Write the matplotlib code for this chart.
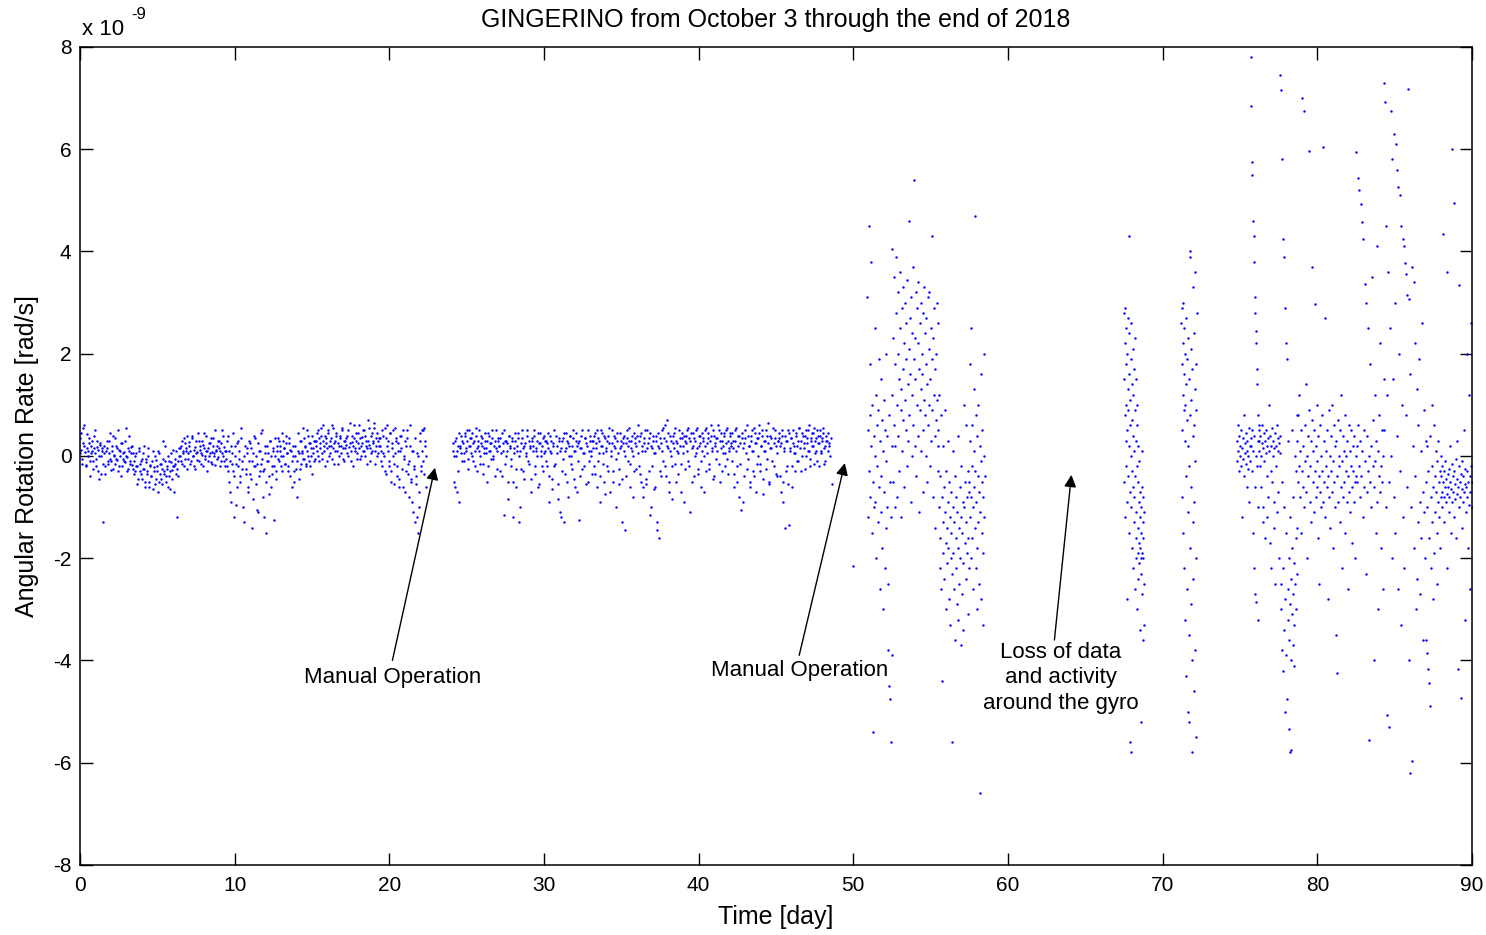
import numpy as np
import matplotlib.pyplot as plt
from matplotlib.ticker import FuncFormatter

# ---------------- data (rotation rate in units of 1e-9 rad/s) ----------------
SCALE = 1e-9

# continuous run, day 0 -> 22.4
run1 = [0.35, 0.12, -0.05, 0.55, 0.2, 0.08, -0.18, 0.42, 0.1, 0.25, -0.1, 0.05, 0.3, -0.25, 0.15, 0.5, -0.05, 0.18, -0.3, 0.0, 0.22, -0.35, 0.1,
        -1.3, 0.05, -0.2, 0.15, -0.1, 0.3, -0.05, -0.28, 0.1, 0.4, 0.02, -0.15, 0.2, -0.08, -0.3, 0.12, 0.0, 0.25, -0.2, -0.05, 0.08, -0.12, 0.55, -0.02, -0.25, 0.1, -0.1, 0.18, -0.18, 0.05,
        -0.1, -0.3, 0.05, -0.2, -0.45, 0.15, -0.15, -0.35, -0.05, -0.25, 0.2, -0.5, -0.12, -0.3, 0.0, -0.6, -0.18, -0.4, 0.1, -0.22, -0.55, -0.08, -0.3, -0.7, 0.05, -0.15, -0.45, -0.25, 0.3, -0.35, -0.1, -0.5, -0.2, 0.0, -0.4, -0.65, -0.12, -0.28, 0.12, -0.2, -0.05, -0.35, -1.2, -0.1, 0.15,
        0.0, 0.2, -0.15, 0.1, 0.35, -0.05, 0.15, -0.25, 0.05, 0.28, 0.1, -0.1, 0.4, 0.0, -0.2, 0.18, 0.05, -0.08, 0.3, 0.12, -0.15, 0.02, 0.22, 0.45, -0.05, 0.1, -0.3, 0.15, 0.0, 0.25, -0.12, 0.08, 0.35, 0.05, -0.18, 0.12, 0.2, -0.02, 0.3, 0.1, -0.1, 0.5, 0.0, 0.18, -0.2,
        0.1, -0.2, 0.4, -0.5, -0.1, -0.9, 0.05, -0.3, -1.2, 0.2, -0.15, -0.6, 0.3, -0.05, -0.4, 0.55, -0.25, -1.0, 0.0, -0.35, 0.15, -0.7, -0.1, 0.25, -0.45, -1.4, 0.05, -0.2, 0.35, -0.55, -0.15, -1.1, 0.1, -0.3, 0.45, -0.05, -0.8, -0.25, 0.2, -1.5, -0.1, 0.05, -0.4, 0.3, -0.6, -0.2, 0.1, -1.25, 0.0, -0.3,
        0.2, -0.05, 0.3, 0.1, -0.2, 0.45, 0.0, 0.15, -0.15, 0.25, 0.05, -0.3, 0.35, 0.12, -0.1, 0.2, -0.5, 0.0, -0.25, -0.8, 0.1, -0.45, 0.3, -0.15, 0.05, 0.55, -0.05, 0.18, -0.2, 0.1, 0.4, -0.1, 0.25, 0.0, -0.35, 0.15, 0.3, -0.05,
        0.3, 0.1, 0.5, -0.1, 0.25, 0.4, 0.05, 0.6, 0.2, -0.2, 0.35, 0.15, 0.45, 0.0, 0.3, 0.2, -0.05, 0.55, 0.25, 0.1, 0.4, -0.15, 0.2, 0.35, 0.05, 0.5, 0.15, -0.1, 0.3, 0.22, 0.4, 0.0, 0.18, 0.65, 0.1, 0.28, -0.2, 0.35, 0.15, 0.45, 0.05, 0.25, 0.6, -0.05, 0.2, 0.38, 0.1, 0.5, 0.0, 0.3, 0.15, 0.7, 0.22, -0.1, 0.4, 0.1, 0.3, 0.55, -0.15, 0.2, 0.45, 0.05, 0.35,
        0.2, -0.1, 0.5, 0.05, -0.3, 0.35, 0.6, 0.1, -0.2, 0.45, -0.5, 0.25, 0.0, -0.15, 0.55, 0.3, -0.4, 0.1, -0.6, 0.4, 0.15, -0.25, 0.5, -0.05, -0.7, 0.2, 0.35, -0.35, -0.1, 0.6, -0.45, -0.9, 0.1, -0.2, -1.3, -0.55, 0.05, -1.5, -1.0, 0.3, -0.3, 0.5, -0.1, 0.55, 0.2, -0.6]
# second channel of the same run (interleaved samples)
run1_b = [0.05, 0.45, -0.15, 0.25, 0.6, -0.2, 0.15, 0.0, 0.35, -0.4, 0.2, 0.1, -0.1, 0.4, 0.05, -0.2, 0.3, 0.12, -0.45, 0.25, 0.0, 0.15, -0.15,
          0.2, -0.35, 0.1, 0.3, -0.15, 0.05, 0.45, -0.1, 0.2, -0.25, 0.0, 0.35, -0.05, 0.15, 0.5, -0.2, 0.1, -0.4, 0.25, 0.05, -0.1, 0.3, 0.0, -0.3, 0.15, 0.4, -0.15, 0.05, 0.2, -0.25,
          -0.35, 0.0, -0.2, -0.55, 0.1, -0.3, -0.1, -0.45, 0.05, -0.25, -0.6, -0.05, -0.35, 0.15, -0.5, -0.2, -0.4, -0.1, -0.65, -0.3, 0.0, -0.45, -0.2, 0.1, -0.5, -0.35, -0.15, -0.55, -0.05, -0.3, 0.2, -0.4, -0.25, -0.6, -0.1, -0.3, 0.05, -0.45, -0.2, -0.7, -0.15, 0.1, -0.25, -0.4, 0.0,
          0.15, -0.1, 0.3, 0.05, -0.2, 0.25, 0.1, 0.4, -0.05, 0.2, -0.15, 0.35, 0.0, 0.12, -0.25, 0.3, 0.08, 0.45, -0.1, 0.2, 0.05, 0.3, -0.2, 0.15, 0.0, 0.4, 0.1, -0.1, 0.25, 0.05, 0.35, -0.15, 0.2, 0.0, 0.5, 0.1, -0.05, 0.3, 0.15, -0.2, 0.25, 0.05, 0.4, -0.1, 0.1,
          -0.05, 0.3, -0.3, 0.1, -0.7, 0.2, -0.15, 0.45, -0.4, 0.0, -0.95, 0.25, -0.2, 0.1, -0.5, 0.35, -0.1, -1.3, 0.2, -0.25, 0.05, -0.6, 0.3, -0.35, 0.15, -0.1, -0.85, 0.4, -0.2, 0.0, -1.05, 0.25, -0.4, 0.1, -0.15, 0.5, -0.3, -1.2, 0.05, -0.5, 0.2, -0.1, -0.75, 0.3, 0.0, -0.35, 0.15, -0.2, 0.35, -0.45,
          0.1, 0.35, -0.1, 0.2, 0.0, -0.3, 0.3, 0.15, -0.15, 0.4, 0.05, -0.2, 0.25, -0.4, 0.1, -0.6, 0.0, -0.3, 0.2, -0.1, 0.45, 0.05, -0.25, 0.3, 0.1, -0.05, 0.35, 0.2, -0.15, 0.5, 0.0, 0.25, -0.2, 0.15, 0.4, 0.05, -0.1, 0.3,
          0.2, 0.45, 0.0, 0.35, 0.15, 0.55, -0.05, 0.3, 0.1, 0.4, 0.25, -0.1, 0.5, 0.2, 0.05, 0.35, 0.6, 0.15, -0.15, 0.3, 0.45, 0.1, 0.25, 0.0, 0.4, 0.2, 0.55, -0.05, 0.3, 0.15, 0.35, 0.05, 0.5, 0.25, -0.1, 0.4, 0.2, 0.6, 0.1, 0.3, -0.05, 0.45, 0.15, 0.35, 0.0, 0.25, 0.5, 0.1, 0.4, 0.2, -0.15, 0.3, 0.55, 0.15, 0.05, 0.45, 0.25, 0.65, 0.1, 0.35, 0.0, 0.3, 0.2,
          0.35, 0.1, -0.2, 0.4, 0.0, 0.55, -0.35, 0.2, 0.3, -0.1, 0.45, -0.3, 0.15, 0.5, -0.55, 0.05, 0.35, -0.2, 0.25, -0.45, 0.1, 0.4, -0.6, 0.0, 0.3, -0.3, 0.5, -0.15, -0.8, 0.2, -0.5, 0.1, -1.1, -0.25, 0.35, -0.4, -1.2, 0.0, -0.7, 0.45, -0.2, 0.1, 0.5, -0.35, 0.3, 0.0]

# continuous run, day 24.1 -> 48.6
run2 = [0.1, -0.5, 0.3, 0.0, -0.7, 0.2, -0.9, 0.15, 0.4, -0.1, 0.25, 0.05, 0.45, 0.1, 0.3, -0.05, 0.5, 0.2, 0.35, 0.0, 0.25, -0.2, 0.55, 0.15, 0.3, 0.1, -0.15, 0.4, 0.2, -0.35, 0.05, 0.3, 0.15, -0.5, 0.45, 0.1, 0.25, -0.05, 0.35, 0.0, 0.2, -0.4, 0.5, 0.1, 0.3,
        0.2, -0.3, 0.45, 0.1, -1.15, 0.3, 0.0, 0.25, -0.5, 0.4, 0.15, -0.2, 0.35, -1.2, 0.05, 0.3, -0.6, 0.2, 0.45, -1.3, 0.1, -0.25, 0.35, 0.15, -0.45, 0.25, 0.0, 0.5, -0.15, 0.2, -0.7, 0.3, 0.1, 0.4, -0.35, 0.15, 0.0, 0.45, -0.55, 0.25, 0.1, -0.2, 0.35, 0.05, 0.3,
        -0.1, 0.25, 0.45, -0.4, 0.1, 0.3, -0.65, 0.2, -0.2, 0.4, 0.05, -0.85, 0.3, -1.1, 0.15, -0.3, 0.35, -1.3, 0.1, 0.45, -0.5, 0.25, 0.0, 0.4, -0.15, 0.2, 0.5, -0.45, 0.1, 0.3, -0.7, 0.25, -1.25, 0.15, 0.4, -0.25, 0.05, 0.35, -0.55, 0.2, 0.5, -0.1, 0.3, 0.1, -0.35,
        0.3, -0.2, 0.45, 0.15, -0.6, 0.35, 0.05, -0.4, 0.5, 0.2, -0.15, 0.4, -0.75, 0.1, 0.3, -0.3, 0.55, 0.0, 0.25, -0.5, 0.4, 0.15, -1.0, 0.3, 0.05, -0.25, 0.45, 0.2, -0.45, 0.35, 0.1, -1.45, 0.25, 0.5, -0.1, 0.3, -0.6, 0.15, 0.4, 0.0, -0.3, 0.35, 0.2, 0.6, -0.2,
        0.4, -0.5, 0.2, -0.6, 0.35, 0.1, -0.55, 0.5, 0.25, -0.3, 0.45, -1.0, 0.15, 0.3, -0.65, 0.05, 0.4, -1.3, 0.2, -1.6, 0.35, -0.4, 0.1, 0.55, -0.2, 0.3, 0.7, 0.15, -0.5, 0.4, 0.0, -0.85, 0.25, 0.45, -0.15, 0.3, 0.1, -0.35, 0.5, 0.2, -0.7, 0.35, 0.05, 0.4, -0.25,
        0.25, 0.5, -0.1, 0.35, -1.1, 0.15, 0.45, -0.4, 0.3, 0.05, 0.55, -0.25, 0.2, 0.4, -0.6, 0.1, 0.35, 0.0, 0.5, -0.3, 0.25, 0.45, -0.15, 0.3, 0.6, 0.1, -0.45, 0.4, 0.2, -0.05, 0.35, 0.5, -0.5, 0.15, 0.3, 0.05, 0.45, -0.2, 0.25, 0.55, -0.35, 0.1, 0.4, 0.2, -0.1,
        0.3, -0.6, 0.5, 0.1, -0.2, 0.4, -0.8, 0.25, -1.05, 0.45, 0.15, -0.4, 0.35, 0.6, -0.05, 0.2, -0.5, 0.4, 0.1, -0.3, 0.55, 0.25, -0.7, 0.35, 0.0, 0.45, -0.15, 0.2, 0.5, -0.45, 0.3, 0.1, -0.25, 0.4, 0.65, -0.55, 0.15, 0.35, -0.1, 0.25, 0.5, -0.35, 0.05, 0.3, 0.45,
        0.2, -0.7, 0.4, -0.5, 0.1, -1.4, 0.3, -0.2, 0.5, -1.35, 0.15, 0.35, -0.6, 0.25, 0.05, -0.3, 0.45, 0.2, -0.1, 0.55, 0.3, 0.0, 0.4, 0.15, -0.25, 0.5, 0.25, 0.1, 0.6, -0.05, 0.35, 0.2, 0.45, -0.15, 0.3, 0.1, 0.5, 0.25, -0.2, 0.4, 0.05, 0.35, 0.55, 0.15, -0.1, 0.3, 0.45, 0.2, 0.0, 0.35, -0.55]
run2_b = [0.25, 0.0, -0.6, 0.35, 0.1, -0.3, 0.45, 0.2, 0.05, 0.3, -0.1, 0.4, 0.15, 0.5, -0.25, 0.2, 0.35, 0.05, 0.45, -0.1, 0.3, 0.1, 0.4, -0.3, 0.2, 0.5, 0.0, 0.25, 0.35, -0.15, 0.15, 0.45, 0.05, 0.3, -0.2, 0.4, 0.1, 0.25, 0.5, -0.05, 0.3, 0.15, -0.25, 0.35, 0.2,
          0.35, 0.05, -0.4, 0.25, 0.5, -0.15, 0.3, 0.1, -0.85, 0.4, 0.2, -0.05, 0.3, -0.5, 0.15, 0.45, -0.25, 0.1, 0.35, 0.0, -1.0, 0.25, 0.5, -0.3, 0.2, 0.05, 0.4, -0.1, 0.3, 0.15, -0.45, 0.35, 0.2, 0.5, -0.2, 0.1, 0.3, -0.6, 0.25, 0.45, 0.0, 0.2, -0.3, 0.4, 0.1,
          0.3, -0.2, 0.15, -0.9, 0.4, 0.05, -0.45, 0.25, 0.5, -0.15, 0.2, -0.55, 0.35, 0.1, -1.2, 0.3, -0.05, 0.45, -0.35, 0.15, 0.3, -0.8, 0.2, 0.4, 0.0, -0.25, 0.35, 0.1, -0.6, 0.45, 0.2, -0.1, 0.3, -0.4, 0.15, 0.5, 0.05, -0.2, 0.35, 0.25, -0.5, 0.1, 0.4, 0.0, 0.3,
          0.15, 0.4, -0.35, 0.25, 0.5, -0.1, 0.3, -0.9, 0.2, 0.45, 0.05, -0.5, 0.35, 0.15, -0.2, 0.4, 0.25, -0.7, 0.1, 0.5, -0.3, 0.2, 0.35, -0.05, 0.45, -0.55, 0.15, 0.3, -1.3, 0.25, 0.4, 0.0, -0.4, 0.35, 0.2, 0.55, -0.15, 0.3, 0.1, -0.8, 0.45, 0.25, -0.25, 0.4, 0.05,
          0.3, -0.35, 0.45, 0.1, -0.8, 0.25, 0.5, -0.45, 0.15, 0.35, -1.15, 0.2, -0.2, 0.4, 0.05, -0.6, 0.3, -1.45, 0.45, 0.15, -0.3, 0.25, 0.5, -0.1, 0.35, 0.6, -0.4, 0.2, 0.45, -0.7, 0.1, 0.3, -0.2, 0.4, 0.15, 0.55, -0.5, 0.25, 0.05, 0.35, -0.15, 0.45, 0.2, -0.9, 0.3,
          0.4, 0.1, 0.55, -0.2, 0.3, 0.45, -0.5, 0.2, 0.35, 0.0, 0.5, 0.15, -0.35, 0.4, 0.25, -0.1, 0.45, 0.3, -0.7, 0.2, 0.55, 0.05, 0.35, -0.25, 0.4, 0.15, 0.5, -0.4, 0.25, 0.35, 0.1, 0.6, -0.15, 0.3, 0.45, -0.3, 0.2, 0.4, 0.05, 0.5, -0.05, 0.3, 0.15, 0.45, 0.25,
          0.45, 0.15, -0.35, 0.3, 0.55, -0.5, 0.2, 0.4, -0.15, 0.35, -0.9, 0.25, 0.5, 0.05, -0.25, 0.4, 0.2, -0.6, 0.3, 0.5, 0.1, -0.4, 0.45, 0.25, -0.15, 0.35, 0.6, -0.3, 0.2, 0.4, -0.75, 0.1, 0.3, 0.5, -0.05, 0.25, -0.5, 0.4, 0.15, 0.55, -0.2, 0.35, 0.2, -0.4, 0.3,
          0.35, -0.4, 0.25, 0.5, -0.9, 0.15, 0.4, -0.3, 0.3, -0.55, 0.45, 0.1, 0.35, -0.2, 0.5, 0.2, 0.05, 0.4, -0.1, 0.3, 0.55, 0.15, -0.3, 0.45, 0.25, 0.4, 0.0, 0.35, 0.5, 0.1, -0.2, 0.3, 0.45, 0.2, 0.55, 0.05, 0.35, -0.1, 0.4, 0.25, 0.5, 0.1, 0.3, 0.45, -0.15, 0.2, 0.4, 0.3, 0.1, 0.25]

# noisy period after day 50
noisy_a = [3.1, 0.5, -1.2, 4.5, -0.3, 1.8, 0.8, -0.8, 3.8, 0.2, -1.5, 1.0, -0.5, -5.4, 0.4, -1.0, 2.5, 0.0, -0.9, 1.2, -2.0, 0.6, -0.2, -1.3, 0.9, 1.9, -0.6, -2.6, 0.3, -1.1,
           1.5, -0.4, 0.7, -1.8, -3.0, 0.1, 1.1, -0.7, -2.2, 0.5, -1.4, 2.0, -0.1, -1.0, 0.4, -2.5, -3.8, 0.8, -4.5, -0.5, -4.75, -1.2, -5.6, 0.2, -3.9]
noisy_b = [4.05, 1.2, -0.5, 2.3, 0.6, 3.5, -1.0, 1.8, 0.2, 2.8, 3.9, 1.0, -0.8, 3.2, 0.4, 2.0, 1.5, -0.3, 3.6, 2.5,
           0.9, 1.3, -1.2, 2.9, 0.1, 1.7, 3.3, 0.7, 2.2, -0.6, 1.1, 3.0, 0.5, 2.6, 1.9, -0.2, 3.45, 1.4, 0.3, 2.1,
           4.6, 0.8, 2.7, 1.6, -0.9, 3.1, 0.0, 2.4, 1.2, 3.7, 0.6, 1.9, 5.4, 2.3, 0.2, 1.5, 3.2, -0.4, 2.9, 1.0,
           0.4, 2.2, 3.4, 1.7, -1.1, 2.6, 0.9, 1.3, 3.0, 0.1, 2.0, 1.6, -0.7, 2.8, 0.5, 1.1, 3.3, 0.8, 2.4, 0.0,
           1.8, 2.7, -0.5, 1.4, 3.1, 0.6, 2.1, 1.0, 3.2, -0.2, 1.5, 2.5, 0.3, 1.9, 4.3, 0.9, 2.3, -0.8, 1.2, 2.9,
           0.4, 1.7, -1.4, 2.0, 0.7, 3.0, 1.1, -0.3, 2.6, 0.2]
noisy_c = [0.5, -1.0, 1.2, -2.2, -0.4, -1.6, 0.8, -2.6, -0.8, -4.4, -1.3, 0.2, -1.9, -0.6, -2.4, -1.1, 0.9, -1.7, -3.0, -0.3,
           -1.4, -2.1, 0.3, -0.9, -1.8, -2.8, -0.5, -1.2, -3.3, -2.0, -0.7, -1.5, -5.6, -2.3, -1.0, 0.1, -1.9, -2.6, -1.3, -3.6,
           -0.4, -2.2, -1.6, -0.8, -2.9, -1.1, -3.2, -1.8, 0.4, -2.5, -1.4, -0.6, -2.0, -3.7, -1.2, -0.2, -2.7, -1.5, -0.9, -2.1,
           -3.4, -1.0, 1.0, -1.7, -0.5, -2.4, -1.3, 0.6, -0.8, -1.9, -3.1, -0.3, -1.6, -2.2, -0.7]
noisy_d = [-0.5, 1.8, -1.2, 0.3, -2.0, -0.8, 2.5, -0.2, -1.6, 0.6, -1.0, -2.6, 0.1, -0.6, 1.3, -1.4, 4.7, -0.3, -2.2, 0.8,
           -0.9, -1.8, 0.4, -3.0, -0.4, 1.0, -1.3, -0.7, -2.5, 0.2, -6.6, -1.1, -0.1, 1.6, -2.8, -0.5, -1.5, 0.5, -3.3, -0.8,
           -1.9, 0.0, 2.0, -1.2, -0.4]
stray = [-2.15]

# short bursts around day 68 and day 72
burst_68 = [2.8, 1.5, -0.5, 2.2, 0.8, -1.2, 2.9, 0.3, 1.8, -0.2, 2.5, 1.0, -0.9, 2.0, 0.5, -2.8, 1.3, 2.7, -0.4, 0.9,
            4.3, 1.6, -1.5, 0.2, 2.4, -0.7, 1.1, -5.6, 0.6, 1.9, -1.0, 2.6, 0.0, -5.8, 1.4, -0.3, 0.7, -1.8, 2.1, -0.6,
            1.2, -2.2, 0.4, 1.7, -1.3, 0.1, -0.8, 2.3, -2.6, 0.9, -0.4, 1.5, -1.6, 0.3, -1.1, -2.0, 0.6, -0.2, -3.0, 1.0,
            -1.4, -0.5, -1.9, 0.2, -2.4, -0.9, -1.7, -0.1, -2.1, -1.2, -3.4, -0.7, -1.8, -2.0, -1.0, -5.2, -1.5, -2.3, 0.1, -1.9,
            -0.6, -2.7, -1.3, -3.6, -2.0, -0.8, -1.6, -2.5, -1.1, -3.3]
burst_72 = [2.6, 1.8, 0.5, 2.9, -0.8, 1.2, 3.0, 2.2, -1.5, 0.9, 2.5, 1.6, -2.2, 0.3, 2.0, -3.2, 1.0, 2.7, -0.4, 1.4,
            -4.3, 0.7, 1.9, -2.6, -5.0, 0.2, 2.3, -1.1, -5.2, 1.5, -0.2, -3.5, 3.9, 0.8, -1.8, 4.0, 2.1, -2.9, 1.1, -0.6,
            -4.0, 1.7, -5.8, 0.4, -2.4, 3.3, -1.3, 0.6, -4.6, 2.4, -0.9, 1.3, -3.8, 3.6, -0.1, -2.0, 1.8, -5.5, 0.9, 2.8]

# last part, day 74.8 -> 90
late_a = [0.3, -0.1, 0.6, 0.1, -0.3, 0.4, 0.0, 0.2, -0.2, 0.5, -1.2, 0.15, -0.05, 0.35, 0.8, -0.4, 0.25, 0.05, -0.15, 0.45,
          0.1, -0.6, 0.3, -0.25, 0.0, 0.55, -0.9, 0.2, -0.1, 0.35]
late_b = [7.8, 0.2, 6.85, -0.3, 5.5, 0.5, 5.75, -1.5, 4.6, 0.1, 4.3, -2.2, 3.8, 0.4, 3.1, -0.6, 2.8, -2.7, 2.45, 0.0,
          2.2, -2.85, 1.7, -0.2, 1.4, -3.2, 0.8, 0.3, -1.0, 0.6]
late_c = [0.3, 0.1, 0.5, -0.2, 0.4, 0.0, -0.6, 0.25, 0.6, -1.0, 0.15, -1.3, 0.45, -0.1, 0.3, -1.6, 0.05, 0.5, -0.4, 0.2,
          -1.2, 0.35, -0.8, 0.1, 1.0, -1.7, 0.4, -0.3, 0.2, -2.2, 0.55, -0.5, 0.0, 0.3, -1.4, 0.15, -0.9, 0.45, -2.5, 0.2,
          -0.2, 0.6, -1.1, 0.1, 0.35, -0.7, 0.25, -2.0, 0.05, 0.4]
late_d = [7.45, -2.5, 7.15, -3.0, 5.8, -0.5, -3.8, 4.25, -2.2, -4.2, 3.9, -1.0, -3.4, 2.9, -2.8, -5.0, 2.2, -1.5, -3.9, 1.9,
          -4.75, -2.6, 0.3, -3.2, -5.35, -2.0, -3.6, -5.8, -1.2, -2.9, -5.75, -4.0, -2.4, 0.5, -3.1, -1.8, -3.7, -2.7, -0.8, -4.1,
          -2.1, -3.3, 0.0, -2.5, -1.6, -3.0, -0.3, -2.3, 0.8, -1.4]
late_e = [0.3, -0.5, 0.8, -0.2, 1.2, -0.8, 0.1, -1.5, 0.5, -0.3, 7.0, -0.6, 0.2, 6.75, -1.0, 0.6, -0.1, 1.4, -0.7, 0.0,
          -2.0, 0.4, -0.4, 5.97, 0.9, -0.9, -0.2, 0.3, -1.3, 0.7, 3.7, -0.5, 0.1, -1.1, 0.5, -0.3, 2.97, -0.8, 0.2, -0.6,
          1.0, -0.1, -1.6, 0.4, -0.4, -2.5, 0.6, -0.7, 0.0, -1.0, 0.8, -0.3, 6.05, -0.9, 0.3, -0.5, 2.7, -1.2, 0.1, -0.2,
          -0.6, 0.5, -2.8, -0.4, 0.9, -0.8, 0.0, -1.4, 0.4, -0.3, 1.0, -0.7, -0.1, -1.8, 0.6, -0.5, 0.2, -1.0, -3.5, 0.3,
          -0.4, -4.25, 0.7, -0.9, 0.0, -0.2, -1.3, 0.5, -0.6, 1.2, -0.1, -2.2, 0.4, -0.8, 0.1, -0.5, -1.5, 0.8, -0.3, 0.0,
          -0.9, 0.3, -2.6, -0.4, 0.6, -0.7, 0.1, -1.1, -0.2, 0.5, -0.6, -1.7, 0.2, -0.3, -0.9, 0.4, -0.5, -2.0, 0.0, -0.4]
late_f = [5.95, 0.2, -0.5, 5.44, 0.6, -0.2, 5.2, -0.8, 0.3, 4.93, -0.4, 4.58, 0.1, -1.2, 4.25, -0.6, 0.5, 3.37, -0.1, -2.3,
          3.0, 0.4, -0.7, 2.5, -0.3, 0.0, -5.55, 1.8, -0.5, 0.2, -1.0, 3.5, -0.2, 0.7, -4.0, -0.6, 1.2, -0.1, -1.5, 0.3,
          4.1, -0.9, 0.1, -3.0, -0.4, 0.8, -0.7, 2.2, -0.2, -1.8, 0.5, -0.5, -2.6, 0.0, 1.5]
late_g = [7.3, 0.5, 6.93, -1.0, 4.5, 1.2, -5.07, 3.6, -0.5, -5.3, 2.5, 0.0, 6.75, -2.0, 5.8, 1.5, -0.8, 6.3, 3.0, -1.5,
          6.1, 0.4, 5.6, -2.6, 5.27, 2.0, -0.3, 5.1, -3.3, 4.5, 1.0, 4.25, -1.2, 4.1, -2.2, 3.78, 0.8, 3.55, -0.6, 3.15,
          7.18, -4.0, 3.07, 1.6, -6.2, -1.0, 3.7, -5.97, 0.2, 3.4, -1.8, 2.2, -0.4, -3.0, 1.3, -2.4, 0.6, -1.3, 1.9, -0.9,
          -2.7, 0.1, -1.6, 2.6, -0.7, -3.6, 0.9, -1.1, -2.0, 0.3]
late_h = [-0.5, -3.6, 0.2, -3.85, -1.0, -4.17, -0.3, -4.45, -1.6, -4.9, 0.4, -2.2, -0.8, 1.0, -1.3, -0.2, -2.8, -0.6, 0.6, -1.9,
          -0.4, -1.1, 0.1, -0.7, -1.5, -0.1, -2.5, -0.9, 0.3, -1.2, -0.5, -1.8, -0.3, -0.8, 0.0]
late_i = [-0.4, -0.7, -0.2, -1.0, -0.5, 4.35, -0.8, -0.3, -1.3, -0.6, -0.1, -0.9, -0.45, 3.6, -0.75, -2.2, -0.35, -0.6, -1.1, -0.25,
          -0.8, 0.2, -0.5, -1.5, -0.65, -0.15, -0.9, 6.0, -0.4, -0.7, -1.2, -0.3, 4.95, -0.55, -0.85, -0.05, -1.6, -0.45, -0.75, 0.3,
          -0.6, -4.17, -0.2, -1.0, 3.35, -0.5, -0.8, -4.73, -0.35, -0.65, -1.4, -0.1, -0.9, -0.4, 0.5, -0.7, -3.2, -0.55, -0.25, -1.1,
          -0.6, 2.0, -0.8, -0.3, -1.8, -0.5, -0.95, 1.2, -0.4, -2.6, -0.7, -0.2, 2.6, -1.0, -0.5]

# (first day, last day, samples)
segments = [
    (0.0, 22.4, run1),
    (0.03, 22.37, run1_b),
    (24.1, 48.6, run2),
    (24.13, 48.45, run2_b),
    (50.0, 50.0, stray),
    (50.9, 52.5, noisy_a),
    (52.5, 55.5, noisy_b),
    (55.5, 57.5, noisy_c),
    (57.5, 58.5, noisy_d),
    (67.5, 68.8, burst_68),
    (71.2, 72.2, burst_72),
    (74.8, 75.7, late_a),
    (75.7, 76.2, late_b),
    (76.2, 77.6, late_c),
    (77.6, 78.7, late_d),
    (78.7, 82.5, late_e),
    (82.5, 84.3, late_f),
    (84.3, 87.0, late_g),
    (87.0, 88.0, late_h),
    (88.0, 90.0, late_i),
]

days = []
rate = []
for t0, t1, vals in segments:
    days.extend(np.linspace(t0, t1, len(vals)))
    rate.extend(np.array(vals) * SCALE)

# ---------------- plot ----------------
plt.rcParams['font.family'] = ['Liberation Sans', 'DejaVu Sans']
plt.rcParams['axes.unicode_minus'] = False
fig = plt.figure(figsize=(14.86, 9.35), dpi=100)
ax = fig.add_axes([0.0538, 0.0749, 0.9368, 0.8749])

ax.plot(days, rate, linestyle='none', marker='.', markersize=3.5, color='#0000ff', markeredgewidth=0)

ax.set_xlim(0, 90)
ax.set_ylim(-8e-9, 8e-9)
ax.set_xticks(np.arange(0, 91, 10))
ax.set_yticks(np.arange(-8, 9, 2) * SCALE)
ax.yaxis.set_major_formatter(FuncFormatter(lambda v, p: '%d' % round(v / SCALE)))

# exponent label as in MATLAB
ax.text(0.0015, 1.021, 'x 10', transform=ax.transAxes, fontsize=16, ha='left', va='center')
ax.text(0.037, 1.040, '-9', transform=ax.transAxes, fontsize=12, ha='left', va='center')

ax.tick_params(direction='in', top=True, right=True, length=9, width=1, labelsize=15)
ax.tick_params(axis='x', pad=8)
ax.tick_params(axis='y', pad=6)
for s in ax.spines.values():
    s.set_linewidth(1.1)

ax.set_title('GINGERINO from October 3 through the end of 2018', fontsize=18, pad=14)
ax.set_xlabel('Time [day]', fontsize=18, labelpad=7)
ax.set_ylabel('Angular Rotation Rate [rad/s]', fontsize=18, labelpad=10)

arrow = dict(arrowstyle='-|>', color='k', lw=1, mutation_scale=18, shrinkA=0, shrinkB=0)
ax.annotate('', xy=(22.95, -0.23e-9), xytext=(20.2, -4.0e-9), arrowprops=arrow)
ax.text(20.2, -4.34e-9, 'Manual Operation', fontsize=16, ha='center', va='center')
ax.annotate('', xy=(49.45, -0.14e-9), xytext=(46.5, -3.9e-9), arrowprops=arrow)
ax.text(46.5, -4.2e-9, 'Manual Operation', fontsize=16, ha='center', va='center')
ax.annotate('', xy=(64.1, -0.37e-9), xytext=(63.0, -3.6e-9), arrowprops=arrow)
ax.text(63.4, -4.34e-9, 'Loss of data\nand activity\naround the gyro', fontsize=16,
        ha='center', va='center', linespacing=1.3)

fig.savefig('out.png', dpi=100)
